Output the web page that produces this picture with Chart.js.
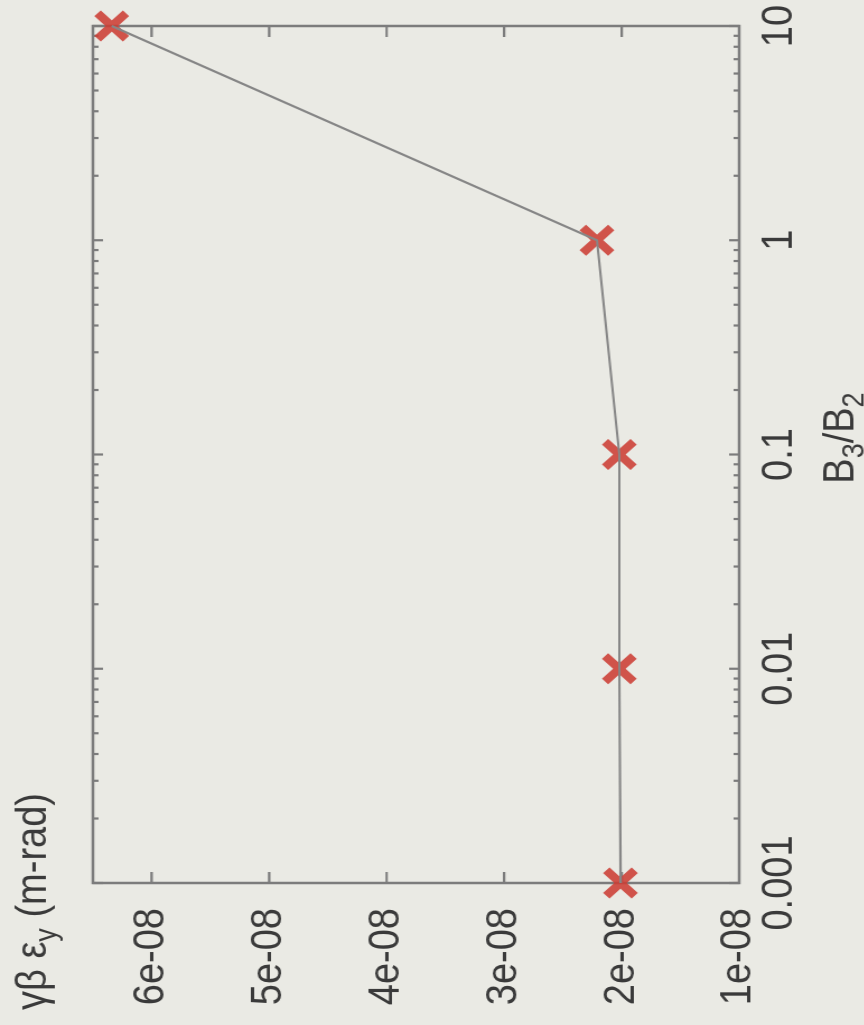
<!DOCTYPE html>
<html>
<head>
<meta charset="utf-8">
<script src="https://cdn.jsdelivr.net/npm/chart.js@4/dist/chart.umd.min.js"></script>
<style>
  html, body { margin: 0; padding: 0; width: 864px; height: 1025px; overflow: hidden; background: #eaeae4; }
  /* The plot is laid out landscape and turned a quarter turn counter-clockwise */
  #wrap {
    position: absolute; left: 0; top: 0; width: 1025px; height: 771px;
    transform-origin: 0 0;
    transform: translate(0, 1025px) rotate(-90deg) scaleY(1.12);
  }
  canvas { display: block; }
</style>
</head>
<body>
<div id="wrap"><canvas id="c" width="1025" height="771"></canvas></div>
<script>
// B3/B2 ratio and resulting normalized vertical emittance
const bRatio = [0.001, 0.01, 0.1, 1, 10];
const emittance = [2.01e-8, 2.02e-8, 2.02e-8, 2.21e-8, 6.34e-8];

const xTicks = [0.001, 0.01, 0.1, 1, 10];
const xTickLabels = ['0.001', '0.01', '0.1', '1', '10'];
const yTicks = [1e-8, 2e-8, 3e-8, 4e-8, 5e-8, 6e-8];
const yTickLabels = ['1e-08', '2e-08', '3e-08', '4e-08', '5e-08', '6e-08'];

const points = bRatio.map((b, i) => ({ x: b, y: emittance[i] }));

const FONT = "'Liberation Sans', Arial, sans-serif";
const TEXT = '#3a3a3a';
const AXIS = '#7c7c7c';

// Frame with inward ticks on all four sides, log minor ticks on the x edges
const framePlugin = {
  id: 'frame',
  beforeDatasetsDraw(chart) {
    const { ctx, chartArea: a, scales: { x, y } } = chart;
    ctx.save();
    ctx.strokeStyle = AXIS;
    ctx.lineWidth = 2.5;
    ctx.strokeRect(a.left, a.top, a.right - a.left, a.bottom - a.top);
    ctx.lineWidth = 2.2;
    ctx.beginPath();
    const xt = (v, len) => {
      const px = x.getPixelForValue(v);
      ctx.moveTo(px, a.bottom); ctx.lineTo(px, a.bottom - len);
      ctx.moveTo(px, a.top); ctx.lineTo(px, a.top + len);
    };
    xTicks.forEach(v => xt(v, 9));
    for (let i = 0; i < xTicks.length - 1; i++) {
      for (let k = 2; k <= 9; k++) xt(xTicks[i] * k, 5);
    }
    yTicks.forEach(v => {
      const py = y.getPixelForValue(v);
      ctx.moveTo(a.left, py); ctx.lineTo(a.left + 11, py);
      ctx.moveTo(a.right, py); ctx.lineTo(a.right - 11, py);
    });
    ctx.stroke();
    ctx.restore();
  },
  afterDraw(chart) {
    const { ctx } = chart;
    ctx.save();
    ctx.fillStyle = TEXT;
    ctx.textBaseline = 'alphabetic';
    ctx.textAlign = 'left';
    const big = '38px ' + FONT;
    const small = '27px ' + FONT;
    // Draw a run of [text, isSubscript] parts starting at x, baseline y
    const run = (parts, x0, y0, measureOnly) => {
      let x = x0;
      parts.forEach(([t, sub]) => {
        ctx.font = sub ? small : big;
        if (!measureOnly) ctx.fillText(t, x, sub ? y0 + 9 : y0);
        x += ctx.measureText(t).width;
      });
      return x - x0;
    };
    // y-axis title, top left
    run([['γβ ε', false], ['y', true], [' (m-rad)', false]], 15, 41);
    // x-axis title, centred under the axis
    const xt = [['B', false], ['3', true], ['/B', false], ['2', true]];
    const w = run(xt, 0, 0, true);
    run(xt, 587 - w / 2, 762);
    ctx.restore();
  }
};

new Chart(document.getElementById('c'), {
  type: 'scatter',
  data: {
    datasets: [
      {
        data: points, showLine: true, borderColor: '#868686', borderWidth: 2.2,
        pointRadius: 0, order: 0, clip: false
      },
      {
        data: points, showLine: false, pointStyle: 'crossRot', pointRadius: 18,
        borderWidth: 8, borderColor: 'rgba(204,62,52,0.88)', backgroundColor: 'rgba(204,62,52,0.88)',
        order: 1, clip: false
      }
    ]
  },
  options: {
    responsive: false,
    animation: false,
    devicePixelRatio: 1,
    layout: { padding: { top: 83, right: 19, left: 0, bottom: 0 } },
    plugins: { legend: { display: false }, tooltip: { enabled: false } },
    scales: {
      x: {
        type: 'logarithmic', min: 0.001, max: 10,
        grid: { display: false, drawTicks: false }, border: { display: false },
        ticks: {
          autoSkip: false, maxRotation: 0, padding: 14, color: TEXT,
          font: { family: FONT, size: 38 },
          callback: (v, i) => xTickLabels[i]
        },
        afterBuildTicks: s => { s.ticks = xTicks.map(v => ({ value: v })); },
        afterFit: s => { s.height = 111; s.paddingLeft = 0; s.paddingRight = 0; }
      },
      y: {
        type: 'linear', min: 1e-8, max: 6.5e-8, bounds: 'data',
        grid: { display: false, drawTicks: false }, border: { display: false },
        ticks: {
          autoSkip: false, padding: 25, color: TEXT,
          font: { family: FONT, size: 38 },
          callback: (v, i) => yTickLabels[i]
        },
        afterBuildTicks: s => { s.ticks = yTicks.map(v => ({ value: v })); },
        afterFit: s => { s.width = 142; s.paddingTop = 0; s.paddingBottom = 0; }
      }
    }
  },
  plugins: [framePlugin]
});
</script>
</body>
</html>
